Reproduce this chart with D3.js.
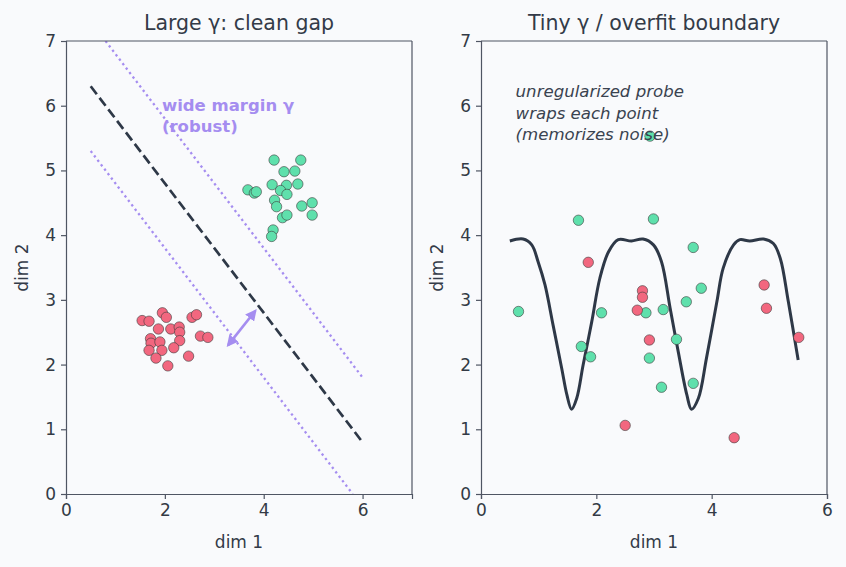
<!DOCTYPE html>
<html>
<head>
<meta charset="utf-8">
<script src="https://cdn.jsdelivr.net/npm/d3@7"></script>
<style>
  html, body { margin: 0; padding: 0; background: #f9fafc; }
  svg { display: block; font-family: "DejaVu Sans", sans-serif; }
  .axis path, .axis line { stroke: #4f5563; stroke-width: 1.2; }
  .axis text { fill: #333a45; font-size: 17px; font-family: "DejaVu Sans", sans-serif; }
</style>
</head>
<body>
<div id="chart"></div>
<script>
// ---- data ----
const xTicksLeft = [0, 2, 4, 6];
const xTicksRight = [0, 2, 4, 6];
const yTicks = [0, 1, 2, 3, 4, 5, 6, 7];

// left panel clusters
const leftRedX = [1.54, 1.68, 1.95, 2.03, 2.55, 2.64, 1.87, 2.12, 2.29, 2.30, 1.71, 1.72, 1.90, 2.30, 2.72, 2.87, 1.68, 1.94, 2.18, 1.82, 2.06, 2.48];
const leftRedY = [2.68, 2.67, 2.80, 2.73, 2.73, 2.77, 2.55, 2.55, 2.58, 2.50, 2.40, 2.33, 2.35, 2.37, 2.44, 2.42, 2.22, 2.22, 2.26, 2.10, 1.98, 2.13];
const leftGreenX = [4.21, 4.75, 4.41, 4.63, 3.68, 3.81, 3.85, 4.17, 4.46, 4.69, 4.34, 4.47, 4.22, 4.26, 4.77, 4.98, 4.98, 4.38, 4.47, 4.19, 4.16];
const leftGreenY = [5.16, 5.16, 4.98, 4.99, 4.70, 4.65, 4.67, 4.78, 4.77, 4.79, 4.69, 4.63, 4.54, 4.44, 4.45, 4.50, 4.31, 4.27, 4.31, 4.08, 3.98];

// left panel boundary, margins, arrow (data units)
const boundaryLine = [[0.5, 6.3], [6.0, 0.8]];
const marginUpper = [[0.8, 7.0], [6.0, 1.8]];
const marginLower = [[0.5, 5.3], [5.8, 0.0]];
const marginArrow = [[3.28, 2.30], [3.83, 2.83]];

// right panel points
const rightGreenX = [2.93, 1.69, 2.99, 3.68, 3.82, 0.65, 2.09, 2.86, 3.16, 3.56, 3.39, 1.74, 1.90, 2.92, 3.13, 3.68];
const rightGreenY = [5.53, 4.23, 4.25, 3.81, 3.18, 2.82, 2.80, 2.80, 2.85, 2.97, 2.39, 2.28, 2.12, 2.10, 1.65, 1.71];
const rightRedX = [1.86, 2.80, 2.80, 4.91, 2.71, 4.95, 2.92, 5.51, 2.50, 4.39];
const rightRedY = [3.58, 3.14, 3.04, 3.23, 2.84, 2.87, 2.38, 2.42, 1.06, 0.87];

// overfit boundary
const curveX = [0.50, 0.73, 0.88, 0.99, 1.11, 1.25, 1.40, 1.49, 1.57, 1.66, 1.77, 1.92, 2.06, 2.21, 2.38, 2.61, 2.81, 2.99, 3.13, 3.28, 3.42, 3.57, 3.65, 3.77, 3.91, 4.09, 4.20, 4.38, 4.49, 4.66, 4.90, 5.07, 5.19, 5.33, 5.50];
const curveY = [3.91, 3.94, 3.85, 3.59, 3.23, 2.61, 1.94, 1.53, 1.31, 1.48, 1.99, 2.66, 3.33, 3.74, 3.93, 3.91, 3.94, 3.85, 3.59, 2.87, 2.20, 1.53, 1.31, 1.48, 2.10, 2.97, 3.49, 3.85, 3.93, 3.91, 3.94, 3.87, 3.64, 2.97, 2.07];

const GREEN = "#5fe0ac", RED = "#f2677f", LAV = "#a58df0", DARK = "#2e3847";

// ---- layout ----
const W = 846, H = 567;
const svg = d3.select("#chart").append("svg").attr("width", W).attr("height", H);
svg.append("rect").attr("width", W).attr("height", H).attr("fill", "#f9fafc");

function makePanel(id, left, right, xMax, xTicks, title) {
  const top = 41, bottom = 494;
  const x = d3.scaleLinear().domain([0, xMax]).range([left, right]);
  const y = d3.scaleLinear().domain([0, 7]).range([bottom, top]);
  svg.append("clipPath").attr("id", id)
    .append("rect").attr("x", left).attr("y", top).attr("width", right - left).attr("height", bottom - top);
  const g = svg.append("g");
  const plot = g.append("g").attr("clip-path", `url(#${id})`);

  g.append("g").attr("class", "axis").attr("transform", `translate(0,${bottom})`)
    .call(d3.axisBottom(x).tickValues(xTicks).tickFormat(d3.format("d")).tickSize(5).tickPadding(5));
  g.append("g").attr("class", "axis").attr("transform", `translate(${left},0)`)
    .call(d3.axisLeft(y).tickValues(yTicks).tickFormat(d3.format("d")).tickSize(5).tickPadding(5));
  // top / right spines
  g.append("line").attr("x1", left).attr("x2", right).attr("y1", top).attr("y2", top)
    .attr("stroke", "#4f5563").attr("stroke-width", 1.2);
  g.append("line").attr("x1", right).attr("x2", right).attr("y1", top).attr("y2", bottom)
    .attr("stroke", "#4f5563").attr("stroke-width", 1.2);

  g.append("text").attr("x", (left + right) / 2).attr("y", 30).attr("text-anchor", "middle")
    .attr("font-size", "20.5px").attr("fill", "#333b48").text(title);
  g.append("text").attr("x", (left + right) / 2).attr("y", 548).attr("text-anchor", "middle")
    .attr("font-size", "17px").attr("fill", "#333b48").text("dim 1");
  g.append("text").attr("transform", `translate(${left - 38},${(top + bottom) / 2}) rotate(-90)`)
    .attr("text-anchor", "middle").attr("font-size", "17px").attr("fill", "#333b48").text("dim 2");
  return { x, y, g, plot };
}

function dots(panel, xs, ys, color) {
  panel.plot.append("g").selectAll("circle").data(xs.map((d, i) => [d, ys[i]])).enter()
    .append("circle")
    .attr("cx", d => panel.x(d[0])).attr("cy", d => panel.y(d[1])).attr("r", 5.2)
    .attr("fill", color).attr("stroke", "#3d3d3d").attr("stroke-width", 0.6);
}

// ---- left panel ----
const L = makePanel("clipL", 66, 412, 7, xTicksLeft, "Large γ: clean gap");
const line = p => d3.line().x(d => p.x(d[0])).y(d => p.y(d[1]));

[marginUpper, marginLower].forEach(m => {
  L.plot.append("path").attr("d", line(L)(m)).attr("fill", "none")
    .attr("stroke", LAV).attr("stroke-width", 2.3).attr("stroke-dasharray", "2.3,3.3");
});
L.plot.append("path").attr("d", line(L)(boundaryLine)).attr("fill", "none")
  .attr("stroke", DARK).attr("stroke-width", 2.7).attr("stroke-dasharray", "10,4.5");

dots(L, leftRedX, leftRedY, RED);
dots(L, leftGreenX, leftGreenY, GREEN);

// double-headed arrow
const defs = svg.append("defs");
defs.append("marker").attr("id", "ah").attr("viewBox", "0 0 10 10").attr("refX", 8).attr("refY", 5)
  .attr("markerWidth", 4.4).attr("markerHeight", 4.4).attr("orient", "auto-start-reverse")
  .append("path").attr("d", "M0,0 L10,5 L0,10 z").attr("fill", LAV);
L.plot.append("line")
  .attr("x1", L.x(marginArrow[0][0])).attr("y1", L.y(marginArrow[0][1]))
  .attr("x2", L.x(marginArrow[1][0])).attr("y2", L.y(marginArrow[1][1]))
  .attr("stroke", LAV).attr("stroke-width", 2.6)
  .attr("marker-start", "url(#ah)").attr("marker-end", "url(#ah)");

const ann = L.g.append("text").attr("x", L.x(1.94)).attr("y", L.y(5.92))
  .attr("font-size", "16.5px").attr("font-weight", "bold").attr("fill", LAV);
ann.append("tspan").attr("x", L.x(1.94)).text("wide margin γ");
ann.append("tspan").attr("x", L.x(1.94)).attr("dy", "1.25em").text("(robust)");

// ---- right panel ----
const R = makePanel("clipR", 481, 827, 6, xTicksRight, "Tiny γ / overfit boundary");

R.plot.append("path")
  .attr("d", d3.line().x(d => R.x(d[0])).y(d => R.y(d[1])).curve(d3.curveCatmullRom.alpha(0.5))(curveX.map((d, i) => [d, curveY[i]])))
  .attr("fill", "none").attr("stroke", DARK).attr("stroke-width", 3);

dots(R, rightGreenX, rightGreenY, GREEN);
dots(R, rightRedX, rightRedY, RED);

const note = R.g.append("text").attr("y", R.y(6.13)).attr("font-size", "16.6px")
  .attr("font-style", "italic").attr("fill", "#3a4350");
["unregularized probe", "wraps each point", "(memorizes noise)"].forEach((t, i) => {
  note.append("tspan").attr("x", R.x(0.6)).attr("dy", i === 0 ? 0 : "1.28em").text(t);
});
</script>
</body>
</html>
